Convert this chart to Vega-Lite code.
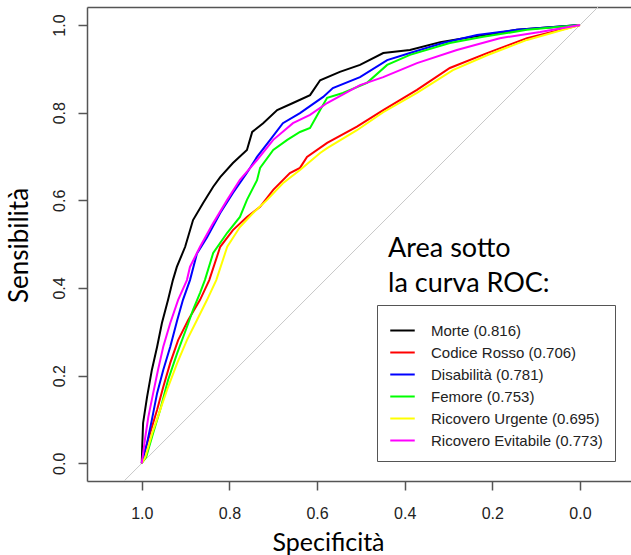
{
  "$schema": "https://vega.github.io/schema/vega-lite/v6.json",
  "autosize": {"type": "none"},
  "padding": {"left": 87, "top": 7, "right": 0, "bottom": 74},
  "width": 544,
  "height": 474,
  "background": "white",
  "config": {
    "view": {"stroke": null},
    "axis": {
      "grid": false,
      "domainColor": "#555",
      "domainWidth": 1.5,
      "tickColor": "#555",
      "tickWidth": 1.5,
      "tickSize": 9,
      "labelFont": "Liberation Sans",
      "labelFontSize": 16,
      "labelColor": "#222",
      "titleFont": "Lato",
      "titleFontSize": 25,
      "titleFontWeight": "normal",
      "titleColor": "#000"
    },
    "legend": {
      "labelFont": "Liberation Sans",
      "labelFontSize": 15,
      "labelColor": "#222",
      "labelLimit": 400
    }
  },
  "resolve": {"axis": {"x": "independent"}},
  "layer": [
    {
      "data": {"values": [{"x": 1.2, "y": -0.2}, {"x": -0.2, "y": 1.2}]},
      "mark": {"type": "line", "color": "#c8c8c8", "strokeWidth": 1, "clip": true},
      "encoding": {
        "x": {"field": "x", "type": "quantitative", "scale": {"domain": [-0.1164, 1.125], "reverse": true, "nice": false, "zero": false},
              "axis": {"orient": "top", "labels": false, "ticks": false, "title": null, "domain": true}},
        "y": {"field": "y", "type": "quantitative", "scale": {"domain": [-0.0404, 1.0411], "nice": false, "zero": false},
              "axis": {"values": [0, 0.2, 0.4, 0.6, 0.8, 1.0], "format": ".1f", "labelAngle": -90, "labelAlign": "center", "labelBaseline": "alphabetic", "labelPadding": 14,
                       "title": "Sensibilità", "titleX": -60, "titleY": 238, "titleAngle": -90, "titleAlign": "center", "titleBaseline": "alphabetic", "titleFontSize": 26}}
      }
    },
    {
      "data": {"values": [
        {"c": "Morte (0.816)", "x": 1, "y": 0},
        {"c": "Morte (0.816)", "x": 0.999, "y": 0.037},
        {"c": "Morte (0.816)", "x": 0.997, "y": 0.092},
        {"c": "Morte (0.816)", "x": 0.988, "y": 0.151},
        {"c": "Morte (0.816)", "x": 0.977, "y": 0.213},
        {"c": "Morte (0.816)", "x": 0.965, "y": 0.266},
        {"c": "Morte (0.816)", "x": 0.954, "y": 0.320},
        {"c": "Morte (0.816)", "x": 0.940, "y": 0.373},
        {"c": "Morte (0.816)", "x": 0.929, "y": 0.418},
        {"c": "Morte (0.816)", "x": 0.920, "y": 0.448},
        {"c": "Morte (0.816)", "x": 0.901, "y": 0.494},
        {"c": "Morte (0.816)", "x": 0.883, "y": 0.555},
        {"c": "Morte (0.816)", "x": 0.860, "y": 0.594},
        {"c": "Morte (0.816)", "x": 0.837, "y": 0.631},
        {"c": "Morte (0.816)", "x": 0.821, "y": 0.653},
        {"c": "Morte (0.816)", "x": 0.792, "y": 0.685},
        {"c": "Morte (0.816)", "x": 0.760, "y": 0.715},
        {"c": "Morte (0.816)", "x": 0.748, "y": 0.756},
        {"c": "Morte (0.816)", "x": 0.723, "y": 0.776},
        {"c": "Morte (0.816)", "x": 0.691, "y": 0.806},
        {"c": "Morte (0.816)", "x": 0.655, "y": 0.822},
        {"c": "Morte (0.816)", "x": 0.616, "y": 0.840},
        {"c": "Morte (0.816)", "x": 0.593, "y": 0.874},
        {"c": "Morte (0.816)", "x": 0.548, "y": 0.893},
        {"c": "Morte (0.816)", "x": 0.502, "y": 0.909},
        {"c": "Morte (0.816)", "x": 0.449, "y": 0.936},
        {"c": "Morte (0.816)", "x": 0.388, "y": 0.943},
        {"c": "Morte (0.816)", "x": 0.319, "y": 0.961},
        {"c": "Morte (0.816)", "x": 0.244, "y": 0.973},
        {"c": "Morte (0.816)", "x": 0.144, "y": 0.989},
        {"c": "Morte (0.816)", "x": 0, "y": 1},

        {"c": "Codice Rosso (0.706)", "x": 1, "y": 0},
        {"c": "Codice Rosso (0.706)", "x": 0.997, "y": 0.014},
        {"c": "Codice Rosso (0.706)", "x": 0.981, "y": 0.069},
        {"c": "Codice Rosso (0.706)", "x": 0.965, "y": 0.122},
        {"c": "Codice Rosso (0.706)", "x": 0.951, "y": 0.174},
        {"c": "Codice Rosso (0.706)", "x": 0.935, "y": 0.229},
        {"c": "Codice Rosso (0.706)", "x": 0.917, "y": 0.281},
        {"c": "Codice Rosso (0.706)", "x": 0.894, "y": 0.327},
        {"c": "Codice Rosso (0.706)", "x": 0.867, "y": 0.373},
        {"c": "Codice Rosso (0.706)", "x": 0.846, "y": 0.418},
        {"c": "Codice Rosso (0.706)", "x": 0.821, "y": 0.494},
        {"c": "Codice Rosso (0.706)", "x": 0.792, "y": 0.532},
        {"c": "Codice Rosso (0.706)", "x": 0.760, "y": 0.562},
        {"c": "Codice Rosso (0.706)", "x": 0.730, "y": 0.585},
        {"c": "Codice Rosso (0.706)", "x": 0.700, "y": 0.624},
        {"c": "Codice Rosso (0.706)", "x": 0.662, "y": 0.662},
        {"c": "Codice Rosso (0.706)", "x": 0.639, "y": 0.674},
        {"c": "Codice Rosso (0.706)", "x": 0.623, "y": 0.699},
        {"c": "Codice Rosso (0.706)", "x": 0.577, "y": 0.731},
        {"c": "Codice Rosso (0.706)", "x": 0.509, "y": 0.768},
        {"c": "Codice Rosso (0.706)", "x": 0.449, "y": 0.806},
        {"c": "Codice Rosso (0.706)", "x": 0.372, "y": 0.852},
        {"c": "Codice Rosso (0.706)", "x": 0.297, "y": 0.902},
        {"c": "Codice Rosso (0.706)", "x": 0.212, "y": 0.936},
        {"c": "Codice Rosso (0.706)", "x": 0.121, "y": 0.970},
        {"c": "Codice Rosso (0.706)", "x": 0, "y": 1},

        {"c": "Disabilità (0.781)", "x": 1, "y": 0},
        {"c": "Disabilità (0.781)", "x": 0.988, "y": 0.046},
        {"c": "Disabilità (0.781)", "x": 0.977, "y": 0.099},
        {"c": "Disabilità (0.781)", "x": 0.965, "y": 0.160},
        {"c": "Disabilità (0.781)", "x": 0.951, "y": 0.213},
        {"c": "Disabilità (0.781)", "x": 0.935, "y": 0.266},
        {"c": "Disabilità (0.781)", "x": 0.919, "y": 0.327},
        {"c": "Disabilità (0.781)", "x": 0.906, "y": 0.373},
        {"c": "Disabilità (0.781)", "x": 0.890, "y": 0.418},
        {"c": "Disabilità (0.781)", "x": 0.874, "y": 0.479},
        {"c": "Disabilità (0.781)", "x": 0.851, "y": 0.516},
        {"c": "Disabilità (0.781)", "x": 0.821, "y": 0.571},
        {"c": "Disabilità (0.781)", "x": 0.792, "y": 0.617},
        {"c": "Disabilità (0.781)", "x": 0.760, "y": 0.663},
        {"c": "Disabilità (0.781)", "x": 0.737, "y": 0.699},
        {"c": "Disabilità (0.781)", "x": 0.707, "y": 0.738},
        {"c": "Disabilità (0.781)", "x": 0.678, "y": 0.776},
        {"c": "Disabilità (0.781)", "x": 0.639, "y": 0.799},
        {"c": "Disabilità (0.781)", "x": 0.586, "y": 0.836},
        {"c": "Disabilità (0.781)", "x": 0.564, "y": 0.856},
        {"c": "Disabilità (0.781)", "x": 0.502, "y": 0.881},
        {"c": "Disabilità (0.781)", "x": 0.440, "y": 0.920},
        {"c": "Disabilità (0.781)", "x": 0.388, "y": 0.936},
        {"c": "Disabilità (0.781)", "x": 0.313, "y": 0.959},
        {"c": "Disabilità (0.781)", "x": 0.235, "y": 0.977},
        {"c": "Disabilità (0.781)", "x": 0.144, "y": 0.989},
        {"c": "Disabilità (0.781)", "x": 0, "y": 1},

        {"c": "Femore (0.753)", "x": 1, "y": 0},
        {"c": "Femore (0.753)", "x": 0.990, "y": 0.014},
        {"c": "Femore (0.753)", "x": 0.974, "y": 0.069},
        {"c": "Femore (0.753)", "x": 0.958, "y": 0.122},
        {"c": "Femore (0.753)", "x": 0.940, "y": 0.190},
        {"c": "Femore (0.753)", "x": 0.919, "y": 0.252},
        {"c": "Femore (0.753)", "x": 0.897, "y": 0.311},
        {"c": "Femore (0.753)", "x": 0.883, "y": 0.350},
        {"c": "Femore (0.753)", "x": 0.867, "y": 0.389},
        {"c": "Femore (0.753)", "x": 0.856, "y": 0.418},
        {"c": "Femore (0.753)", "x": 0.837, "y": 0.480},
        {"c": "Femore (0.753)", "x": 0.805, "y": 0.526},
        {"c": "Femore (0.753)", "x": 0.776, "y": 0.562},
        {"c": "Femore (0.753)", "x": 0.760, "y": 0.601},
        {"c": "Femore (0.753)", "x": 0.737, "y": 0.646},
        {"c": "Femore (0.753)", "x": 0.730, "y": 0.674},
        {"c": "Femore (0.753)", "x": 0.700, "y": 0.715},
        {"c": "Femore (0.753)", "x": 0.668, "y": 0.738},
        {"c": "Femore (0.753)", "x": 0.639, "y": 0.756},
        {"c": "Femore (0.753)", "x": 0.616, "y": 0.765},
        {"c": "Femore (0.753)", "x": 0.593, "y": 0.806},
        {"c": "Femore (0.753)", "x": 0.577, "y": 0.834},
        {"c": "Femore (0.753)", "x": 0.541, "y": 0.845},
        {"c": "Femore (0.753)", "x": 0.486, "y": 0.868},
        {"c": "Femore (0.753)", "x": 0.440, "y": 0.909},
        {"c": "Femore (0.753)", "x": 0.388, "y": 0.932},
        {"c": "Femore (0.753)", "x": 0.297, "y": 0.959},
        {"c": "Femore (0.753)", "x": 0.221, "y": 0.973},
        {"c": "Femore (0.753)", "x": 0.121, "y": 0.989},
        {"c": "Femore (0.753)", "x": 0, "y": 1},

        {"c": "Ricovero Urgente (0.695)", "x": 1, "y": 0},
        {"c": "Ricovero Urgente (0.695)", "x": 0.992, "y": 0.014},
        {"c": "Ricovero Urgente (0.695)", "x": 0.976, "y": 0.069},
        {"c": "Ricovero Urgente (0.695)", "x": 0.958, "y": 0.122},
        {"c": "Ricovero Urgente (0.695)", "x": 0.940, "y": 0.174},
        {"c": "Ricovero Urgente (0.695)", "x": 0.919, "y": 0.229},
        {"c": "Ricovero Urgente (0.695)", "x": 0.897, "y": 0.281},
        {"c": "Ricovero Urgente (0.695)", "x": 0.874, "y": 0.327},
        {"c": "Ricovero Urgente (0.695)", "x": 0.851, "y": 0.373},
        {"c": "Ricovero Urgente (0.695)", "x": 0.830, "y": 0.418},
        {"c": "Ricovero Urgente (0.695)", "x": 0.805, "y": 0.494},
        {"c": "Ricovero Urgente (0.695)", "x": 0.776, "y": 0.539},
        {"c": "Ricovero Urgente (0.695)", "x": 0.746, "y": 0.571},
        {"c": "Ricovero Urgente (0.695)", "x": 0.714, "y": 0.601},
        {"c": "Ricovero Urgente (0.695)", "x": 0.678, "y": 0.639},
        {"c": "Ricovero Urgente (0.695)", "x": 0.639, "y": 0.669},
        {"c": "Ricovero Urgente (0.695)", "x": 0.593, "y": 0.708},
        {"c": "Ricovero Urgente (0.695)", "x": 0.577, "y": 0.719},
        {"c": "Ricovero Urgente (0.695)", "x": 0.509, "y": 0.760},
        {"c": "Ricovero Urgente (0.695)", "x": 0.449, "y": 0.801},
        {"c": "Ricovero Urgente (0.695)", "x": 0.372, "y": 0.845},
        {"c": "Ricovero Urgente (0.695)", "x": 0.290, "y": 0.897},
        {"c": "Ricovero Urgente (0.695)", "x": 0.212, "y": 0.931},
        {"c": "Ricovero Urgente (0.695)", "x": 0.121, "y": 0.966},
        {"c": "Ricovero Urgente (0.695)", "x": 0, "y": 1},

        {"c": "Ricovero Evitabile (0.773)", "x": 1, "y": 0},
        {"c": "Ricovero Evitabile (0.773)", "x": 0.992, "y": 0.060},
        {"c": "Ricovero Evitabile (0.773)", "x": 0.985, "y": 0.106},
        {"c": "Ricovero Evitabile (0.773)", "x": 0.974, "y": 0.160},
        {"c": "Ricovero Evitabile (0.773)", "x": 0.963, "y": 0.213},
        {"c": "Ricovero Evitabile (0.773)", "x": 0.951, "y": 0.266},
        {"c": "Ricovero Evitabile (0.773)", "x": 0.935, "y": 0.320},
        {"c": "Ricovero Evitabile (0.773)", "x": 0.917, "y": 0.373},
        {"c": "Ricovero Evitabile (0.773)", "x": 0.897, "y": 0.418},
        {"c": "Ricovero Evitabile (0.773)", "x": 0.890, "y": 0.448},
        {"c": "Ricovero Evitabile (0.773)", "x": 0.867, "y": 0.494},
        {"c": "Ricovero Evitabile (0.773)", "x": 0.837, "y": 0.548},
        {"c": "Ricovero Evitabile (0.773)", "x": 0.805, "y": 0.601},
        {"c": "Ricovero Evitabile (0.773)", "x": 0.776, "y": 0.647},
        {"c": "Ricovero Evitabile (0.773)", "x": 0.737, "y": 0.692},
        {"c": "Ricovero Evitabile (0.773)", "x": 0.700, "y": 0.738},
        {"c": "Ricovero Evitabile (0.773)", "x": 0.655, "y": 0.776},
        {"c": "Ricovero Evitabile (0.773)", "x": 0.616, "y": 0.795},
        {"c": "Ricovero Evitabile (0.773)", "x": 0.577, "y": 0.822},
        {"c": "Ricovero Evitabile (0.773)", "x": 0.502, "y": 0.863},
        {"c": "Ricovero Evitabile (0.773)", "x": 0.449, "y": 0.881},
        {"c": "Ricovero Evitabile (0.773)", "x": 0.372, "y": 0.913},
        {"c": "Ricovero Evitabile (0.773)", "x": 0.281, "y": 0.943},
        {"c": "Ricovero Evitabile (0.773)", "x": 0.183, "y": 0.970},
        {"c": "Ricovero Evitabile (0.773)", "x": 0.091, "y": 0.984},
        {"c": "Ricovero Evitabile (0.773)", "x": 0, "y": 1}
      ]},
      "mark": {"type": "line", "strokeWidth": 2, "interpolate": "linear"},
      "encoding": {
        "x": {"field": "x", "type": "quantitative", "scale": {"domain": [-0.1164, 1.125], "reverse": true, "nice": false, "zero": false},
              "axis": {"orient": "bottom", "values": [0, 0.2, 0.4, 0.6, 0.8, 1.0], "format": ".1f", "labelPadding": 15,
                       "title": "Specificità", "titleX": 241, "titleY": 69, "titleAlign": "center", "titleBaseline": "alphabetic"}},
        "y": {"field": "y", "type": "quantitative", "scale": {"domain": [-0.0404, 1.0411], "nice": false, "zero": false},
              "axis": {"values": [0, 0.2, 0.4, 0.6, 0.8, 1.0], "format": ".1f", "labelAngle": -90, "labelAlign": "center", "labelBaseline": "alphabetic", "labelPadding": 14,
                       "title": "Sensibilità", "titleX": -60, "titleY": 238, "titleAngle": -90, "titleAlign": "center", "titleBaseline": "alphabetic", "titleFontSize": 26}},
        "color": {"field": "c", "type": "nominal",
                  "scale": {"domain": ["Morte (0.816)", "Codice Rosso (0.706)", "Disabilità (0.781)", "Femore (0.753)", "Ricovero Urgente (0.695)", "Ricovero Evitabile (0.773)"],
                            "range": ["#000000", "#ff0000", "#0000ff", "#00ff00", "#ffff00", "#ff00ff"]},
                  "legend": {"orient": "none", "legendX": 290, "legendY": 298, "title": null, "padding": 12,
                             "fillColor": "white", "strokeColor": "#555", "symbolType": "stroke", "symbolStrokeWidth": 2,
                             "symbolSize": 600, "labelOffset": 15, "rowPadding": -3, "labelLimit": 400}}
      }
    },
    {
      "data": {"values": [{"x": 0.438, "y": 0.471, "t": ["Area sotto", "la curva ROC:"]}]},
      "mark": {"type": "text", "align": "left", "baseline": "alphabetic", "font": "Lato", "fontSize": 27, "lineHeight": 35, "color": "#000"},
      "encoding": {
        "x": {"field": "x", "type": "quantitative", "axis": null},
        "y": {"field": "y", "type": "quantitative",
              "axis": {"values": [0, 0.2, 0.4, 0.6, 0.8, 1.0], "format": ".1f", "labelAngle": -90, "labelAlign": "center", "labelBaseline": "alphabetic", "labelPadding": 14,
                       "title": "Sensibilità", "titleX": -60, "titleY": 238, "titleAngle": -90, "titleAlign": "center", "titleBaseline": "alphabetic", "titleFontSize": 26}},
        "text": {"field": "t"}
      }
    }
  ]
}
